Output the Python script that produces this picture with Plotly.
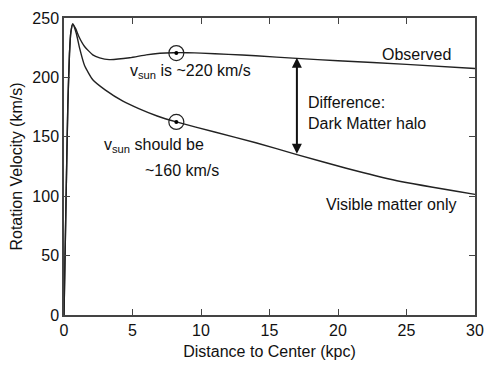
import plotly.graph_objects as go

# Observed rotation curve (kpc, km/s)
obs_r = [0, 0.15, 0.28, 0.4, 0.5, 0.64, 0.85, 1.1, 1.5, 2.1, 2.6, 3.3, 4.8, 6, 7, 8, 9, 10, 12, 14, 17, 20, 25, 30]
obs_v = [0, 97, 177, 220, 238, 245, 241, 234, 226, 219, 216.5, 215, 216.5, 219, 220.3, 220.8, 220.8, 220.4, 219.4, 218.2, 216, 214, 211, 207.5]

# Visible-matter-only curve
vis_r = [0, 0.15, 0.28, 0.4, 0.5, 0.64, 0.9, 1.13, 1.5, 2.1, 3.0, 4.3, 5.5, 6.8, 8.2, 11, 14, 17, 20.6, 24.3, 30]
vis_v = [0, 97, 177, 220, 238, 245, 237, 225, 210, 198, 189.5, 180, 173.5, 167.5, 162.5, 154, 145, 135, 123.5, 113, 101.5]

# Sun position
sun_r = [8.2, 8.2]
sun_v = [220.5, 162.5]

# Difference arrow
diff_r = 17
diff_top = 216.5
diff_bottom = 134.5

x_ticks = [0, 5, 10, 15, 20, 25, 30]
y_ticks = [0, 50, 100, 150, 200, 250]

line_col = "#222222"
font = "Liberation Sans, Arial, sans-serif"
fs = 16

fig = go.Figure()
fig.add_trace(go.Scatter(x=obs_r, y=obs_v, mode="lines", line=dict(color=line_col, width=1.4, shape="spline", smoothing=0.5), showlegend=False))
fig.add_trace(go.Scatter(x=vis_r, y=vis_v, mode="lines", line=dict(color=line_col, width=1.4, shape="spline", smoothing=0.5), showlegend=False))
fig.add_trace(go.Scatter(x=sun_r, y=sun_v, mode="markers", marker=dict(symbol="circle-open", size=15, color=line_col, line=dict(width=1.2, color=line_col)), showlegend=False))
fig.add_trace(go.Scatter(x=sun_r, y=sun_v, mode="markers", marker=dict(symbol="circle", size=4, color="#000000"), showlegend=False))

fig.add_annotation(x=diff_r, y=diff_top, ax=diff_r, ay=diff_bottom, xref="x", yref="y", axref="x", ayref="y",
                   showarrow=True, arrowhead=2, arrowside="end+start", arrowwidth=2, arrowsize=1, arrowcolor="#111111", text="")

txt = dict(size=fs, color="#111111", family=font)
fig.add_annotation(x=9.25, y=205, text="v<sub>sun</sub> is ~220 km/s", showarrow=False, font=txt)
fig.add_annotation(x=6.55, y=143, text="v<sub>sun</sub> should be", showarrow=False, font=txt)
fig.add_annotation(x=8.6, y=122, text="~160 km/s", showarrow=False, font=txt)
fig.add_annotation(x=25.7, y=219.5, text="Observed", showarrow=False, font=txt)
fig.add_annotation(x=17.7, y=170, text="Difference:<br>Dark Matter halo", showarrow=False, font=txt, align="left", xanchor="left")
fig.add_annotation(x=23.9, y=93, text="Visible matter only", showarrow=False, font=txt)

axis_common = dict(showline=True, linecolor="#444444", linewidth=1.5, mirror="ticks", ticks="inside", ticklen=6,
                   tickwidth=1.2, tickcolor="#444444", showgrid=False, zeroline=False,
                   tickfont=dict(size=fs, color="#111111", family=font))
fig.update_xaxes(range=[0, 30], tickvals=x_ticks, title=dict(text="Distance to Center (kpc)", font=dict(size=fs, color="#111111", family=font), standoff=8), **axis_common)
fig.update_yaxes(range=[0, 250], tickvals=y_ticks, title=dict(text="Rotation Velocity (km/s)", font=dict(size=fs, color="#111111", family=font), standoff=6), **axis_common)

fig.update_layout(width=491, height=369, margin=dict(l=64, r=16, t=18, b=54, autoexpand=False), plot_bgcolor="white", paper_bgcolor="white")
fig.write_html("out.html", config={"displayModeBar": False},
               post_script="document.body.style.margin='0px';document.body.style.overflow='hidden';")
